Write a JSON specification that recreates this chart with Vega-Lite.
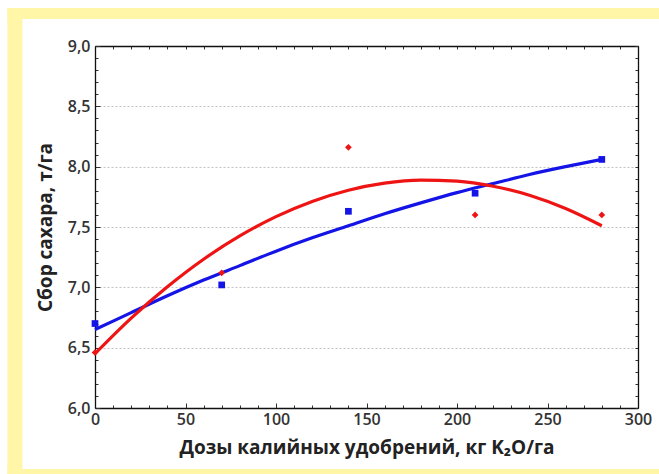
{
  "$schema": "https://vega.github.io/schema/vega-lite/v6.json",
  "autosize": {"type": "none"},
  "width": 543,
  "height": 362,
  "padding": {"left": 95, "top": 46, "right": 21, "bottom": 66},
  "background": "#ffffff",
  "datasets": {
    "points": [
      {"series": "blue", "x": 0, "y": 6.70},
      {"series": "blue", "x": 70, "y": 7.02},
      {"series": "blue", "x": 140, "y": 7.63},
      {"series": "blue", "x": 210, "y": 7.78},
      {"series": "blue", "x": 280, "y": 8.06},
      {"series": "red", "x": 0, "y": 6.46},
      {"series": "red", "x": 70, "y": 7.12},
      {"series": "red", "x": 140, "y": 8.16},
      {"series": "red", "x": 210, "y": 7.60},
      {"series": "red", "x": 280, "y": 7.60}
    ],
    "curves": [
      {"series": "blue", "x": 0, "y": 6.65},
      {"series": "blue", "x": 20, "y": 6.79},
      {"series": "blue", "x": 40, "y": 6.93},
      {"series": "blue", "x": 60, "y": 7.06},
      {"series": "blue", "x": 80, "y": 7.18},
      {"series": "blue", "x": 100, "y": 7.30},
      {"series": "blue", "x": 120, "y": 7.41},
      {"series": "blue", "x": 140, "y": 7.51},
      {"series": "blue", "x": 160, "y": 7.61},
      {"series": "blue", "x": 180, "y": 7.70},
      {"series": "blue", "x": 200, "y": 7.785},
      {"series": "blue", "x": 220, "y": 7.86},
      {"series": "blue", "x": 240, "y": 7.935},
      {"series": "blue", "x": 260, "y": 8.00},
      {"series": "blue", "x": 280, "y": 8.06},
      {"series": "red", "x": 0, "y": 6.45},
      {"series": "red", "x": 20, "y": 6.745},
      {"series": "red", "x": 40, "y": 7.005},
      {"series": "red", "x": 60, "y": 7.233},
      {"series": "red", "x": 80, "y": 7.426},
      {"series": "red", "x": 100, "y": 7.586},
      {"series": "red", "x": 120, "y": 7.712},
      {"series": "red", "x": 140, "y": 7.805},
      {"series": "red", "x": 160, "y": 7.864},
      {"series": "red", "x": 180, "y": 7.889},
      {"series": "red", "x": 200, "y": 7.88},
      {"series": "red", "x": 220, "y": 7.838},
      {"series": "red", "x": 240, "y": 7.763},
      {"series": "red", "x": 260, "y": 7.653},
      {"series": "red", "x": 280, "y": 7.51}
    ]
  },
  "layer": [
    {
      "data": {"values": [{}]},
      "mark": {"type": "rect", "color": "#fff6a8"},
      "encoding": {
        "x": {"datum": -48.4, "type": "quantitative", "scale": {"domain": [0, 300]},
          "axis": {"orient": "top", "title": null, "labels": false, "grid": false,
            "values": [0,10,20,30,40,50,60,70,80,90,100,110,120,130,140,150,160,170,180,190,200,210,220,230,240,250,260,270,280,290,300],
            "tickSize": -3}},
        "x2": {"datum": 360},
        "y": {"datum": 9.315, "type": "quantitative", "scale": {"domain": [6, 9]},
          "axis": {"orient": "right", "title": null, "labels": false, "grid": false,
            "values": [6.0,6.1,6.2,6.3,6.4,6.5,6.6,6.7,6.8,6.9,7.0,7.1,7.2,7.3,7.4,7.5,7.6,7.7,7.8,7.9,8.0,8.1,8.2,8.3,8.4,8.5,8.6,8.7,8.8,8.9,9.0],
            "tickSize": -3}},
        "y2": {"datum": 9.224}
      }
    },
    {
      "data": {"values": [{}]},
      "mark": {"type": "rect", "color": "#fff6a8"},
      "encoding": {
        "x": {"datum": -48.4, "type": "quantitative", "scale": {"domain": [0, 300]}, "axis": null},
        "x2": {"datum": -40.1},
        "y": {"datum": 9.315, "type": "quantitative", "scale": {"domain": [6, 9]}, "axis": null},
        "y2": {"datum": 5.3}
      }
    },
    {
      "data": {"values": [{}]},
      "mark": {"type": "rect", "color": "#fff6a8"},
      "encoding": {
        "x": {"datum": -48.4, "type": "quantitative", "scale": {"domain": [0, 300]}, "axis": null},
        "x2": {"datum": 360},
        "y": {"datum": 5.494, "type": "quantitative", "scale": {"domain": [6, 9]}, "axis": null},
        "y2": {"datum": 5.3}
      }
    },
    {
      "data": {"name": "curves"},
      "mark": {"type": "line", "strokeWidth": 3.2, "interpolate": "monotone"},
      "encoding": {
        "x": {"field": "x", "type": "quantitative", "scale": {"domain": [0, 300]},
          "axis": {"orient": "bottom", "title": "Дозы калийных удобрений, кг K₂O/га",
            "values": [0,10,20,30,40,50,60,70,80,90,100,110,120,130,140,150,160,170,180,190,200,210,220,230,240,250,260,270,280,290,300],
            "labelExpr": "datum.value % 50 === 0 ? datum.label : ''",
            "tickSize": {"condition": {"test": "datum.value % 50 === 0", "value": -5}, "value": -3},
            "grid": false, "labelPadding": 8, "titlePadding": 9, "labelFlush": false, "labelOverlap": false}},
        "y": {"field": "y", "type": "quantitative", "scale": {"domain": [6, 9]},
          "axis": {"orient": "left", "title": "Сбор сахара, т/га",
            "values": [6.0,6.1,6.2,6.3,6.4,6.5,6.6,6.7,6.8,6.9,7.0,7.1,7.2,7.3,7.4,7.5,7.6,7.7,7.8,7.9,8.0,8.1,8.2,8.3,8.4,8.5,8.6,8.7,8.8,8.9,9.0],
            "labelExpr": "abs(datum.value*2 - round(datum.value*2)) < 0.001 ? replace(format(datum.value, '.1f'), '.', ',') : ''",
            "tickSize": {"condition": {"test": "abs(datum.value*2 - round(datum.value*2)) < 0.001", "value": -5}, "value": -3},
            "grid": true,
            "gridOpacity": {"condition": {"test": "abs(datum.value*2 - round(datum.value*2)) < 0.001 && datum.value > 6.01 && datum.value < 8.99", "value": 1}, "value": 0},
            "gridColor": "#c4c4c4", "gridDash": [2, 2], "gridWidth": 1,
            "labelPadding": 10, "titlePadding": 12, "labelOverlap": false}},
        "color": {"field": "series", "type": "nominal", "scale": {"domain": ["blue", "red"], "range": ["#1414e6", "#ee1414"]}, "legend": null}
      }
    },
    {
      "data": {"name": "points"},
      "mark": {"type": "point", "filled": true, "opacity": 1, "size": 45},
      "encoding": {
        "x": {"field": "x", "type": "quantitative", "scale": {"domain": [0, 300]}, "axis": null},
        "y": {"field": "y", "type": "quantitative", "scale": {"domain": [6, 9]}, "axis": null},
        "shape": {"field": "series", "type": "nominal", "scale": {"domain": ["blue", "red"], "range": ["square", "diamond"]}, "legend": null},
        "color": {"field": "series", "type": "nominal", "scale": {"domain": ["blue", "red"], "range": ["#1414e6", "#ee1414"]}, "legend": null}
      }
    }
  ],
  "resolve": {"axis": {"x": "independent", "y": "independent"}},
  "config": {
    "view": {"stroke": null},
    "axis": {
      "domainColor": "#111111",
      "domainWidth": 1.3,
      "tickColor": "#333333",
      "tickWidth": 1,
      "labelFont": "Open Sans",
      "labelFontSize": 16,
      "labelFontWeight": 600,
      "labelColor": "#333333",
      "titleFont": "Open Sans",
      "titleFontSize": 19,
      "titleFontWeight": "bold",
      "titleColor": "#222222"
    }
  }
}
